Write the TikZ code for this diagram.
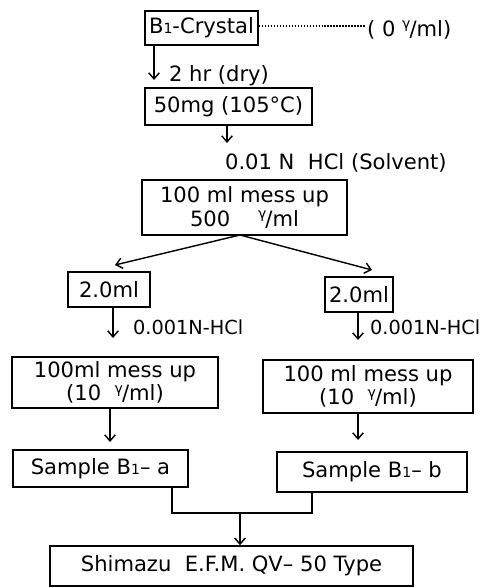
\documentclass[tikz,border=0pt]{standalone}
\usepackage{fontspec}
\setmainfont{DejaVu Sans}
\usetikzlibrary{arrows.meta}
\newcommand{\gml}{\textsuperscript{γ}\kern-1pt/ml}
\newcommand{\bone}{B{\footnotesize 1}}

\begin{document}
\begin{tikzpicture}[
    x=0.02cm, y=-0.02cm,
    font=\fontsize{12}{13.5}\selectfont,
    box/.style={draw, line width=0.9pt, inner sep=2pt, align=center},
    flow/.style={-{Straight Barb[length=3.5pt, width=6pt]}, line width=0.8pt},
    link/.style={line width=0.8pt},
    note/.style={anchor=west, inner sep=1pt},
    acid/.style={note, font=\fontsize{11}{13}\selectfont}
    ]
    \useasboundingbox (0,0) rectangle (490,588);

    \node[box, minimum width=2.26cm, minimum height=0.68cm] (crystal) at (201.5,28) {\bone-Crystal};
    \node[note] (zero) at (365,30) {( 0 \gml )};
    \node[note] (dry) at (167,76) {2 hr (dry)};
    \node[box, minimum width=3.34cm, minimum height=0.74cm] (mg) at (228.5,106.5) {50mg (105°C)};
    \node[note] (solvent) at (223,163) {0.01 N \ HCl (Solvent)};
    \node[box, minimum width=4.1cm, minimum height=1.1cm] (stock) at (244.5,207.5) {100 ml mess up\\500 \quad \gml};
    \node[box, minimum width=1.64cm, minimum height=0.7cm] (al) at (109,289.5) {2.0ml};
    \node[box, minimum width=1.36cm, minimum height=0.7cm] (ar) at (359,294.5) {2.0ml};
    \node[acid] (hcll) at (131,327) {0.001N-HCl};
    \node[acid] (hclr) at (368,327) {0.001N-HCl};
    \node[box, minimum width=4.12cm, minimum height=1.02cm] (dl) at (115,382.5) {100ml mess up\\(10 \ \gml )};
    \node[box, minimum width=4.2cm, minimum height=1.06cm] (dr) at (368,386.5) {100 ml mess up\\(10 \ \gml )};
    \node[box, minimum width=3.5cm, minimum height=0.74cm] (sa) at (100.5,468.5) {Sample \bone -- a};
    \node[box, minimum width=3.8cm, minimum height=0.8cm] (sb) at (372,472) {Sample \bone -- b};
    \node[box, minimum width=7.26cm, minimum height=0.8cm] (efm) at (231.5,566) {Shimazu \ E.F.M. QV-- 50 Type};

    \coordinate (t1) at (154,80);
    \coordinate (t2) at (227,143);
    \coordinate (fork) at (240,235);
    \coordinate (tl) at (115,265);
    \coordinate (tr) at (372,270);
    \coordinate (t3) at (113,338);
    \coordinate (t4) at (358,340);
    \coordinate (t5) at (110,442);
    \coordinate (t6) at (358,440);
    \coordinate (ja) at (172,513);
    \coordinate (jb) at (312,513);
    \coordinate (jm) at (240,513);

    \draw[densely dotted, line width=0.7pt] (crystal.east |- 0,26) -- (zero.west |- 0,26);
    \draw[flow] (crystal.south -| t1) -- (t1);
    \draw[flow] (mg.south -| t2) -- (t2);
    \draw[flow] (fork) -- (tl);   \draw[flow] (fork) -- (tr);
    \draw[flow] (al.south -| t3) -- (t3);
    \draw[flow] (ar.south -| t4) -- (t4);
    \draw[flow] (dl.south -| t5) -- (t5);
    \draw[flow] (dr.south -| t6) -- (t6);
    \draw[link] (sa.south -| ja) -- (ja) -- (jb) -- (sb.south -| jb);
    \draw[flow] (jm) -- (efm.north -| jm);

\end{tikzpicture}
\end{document}
